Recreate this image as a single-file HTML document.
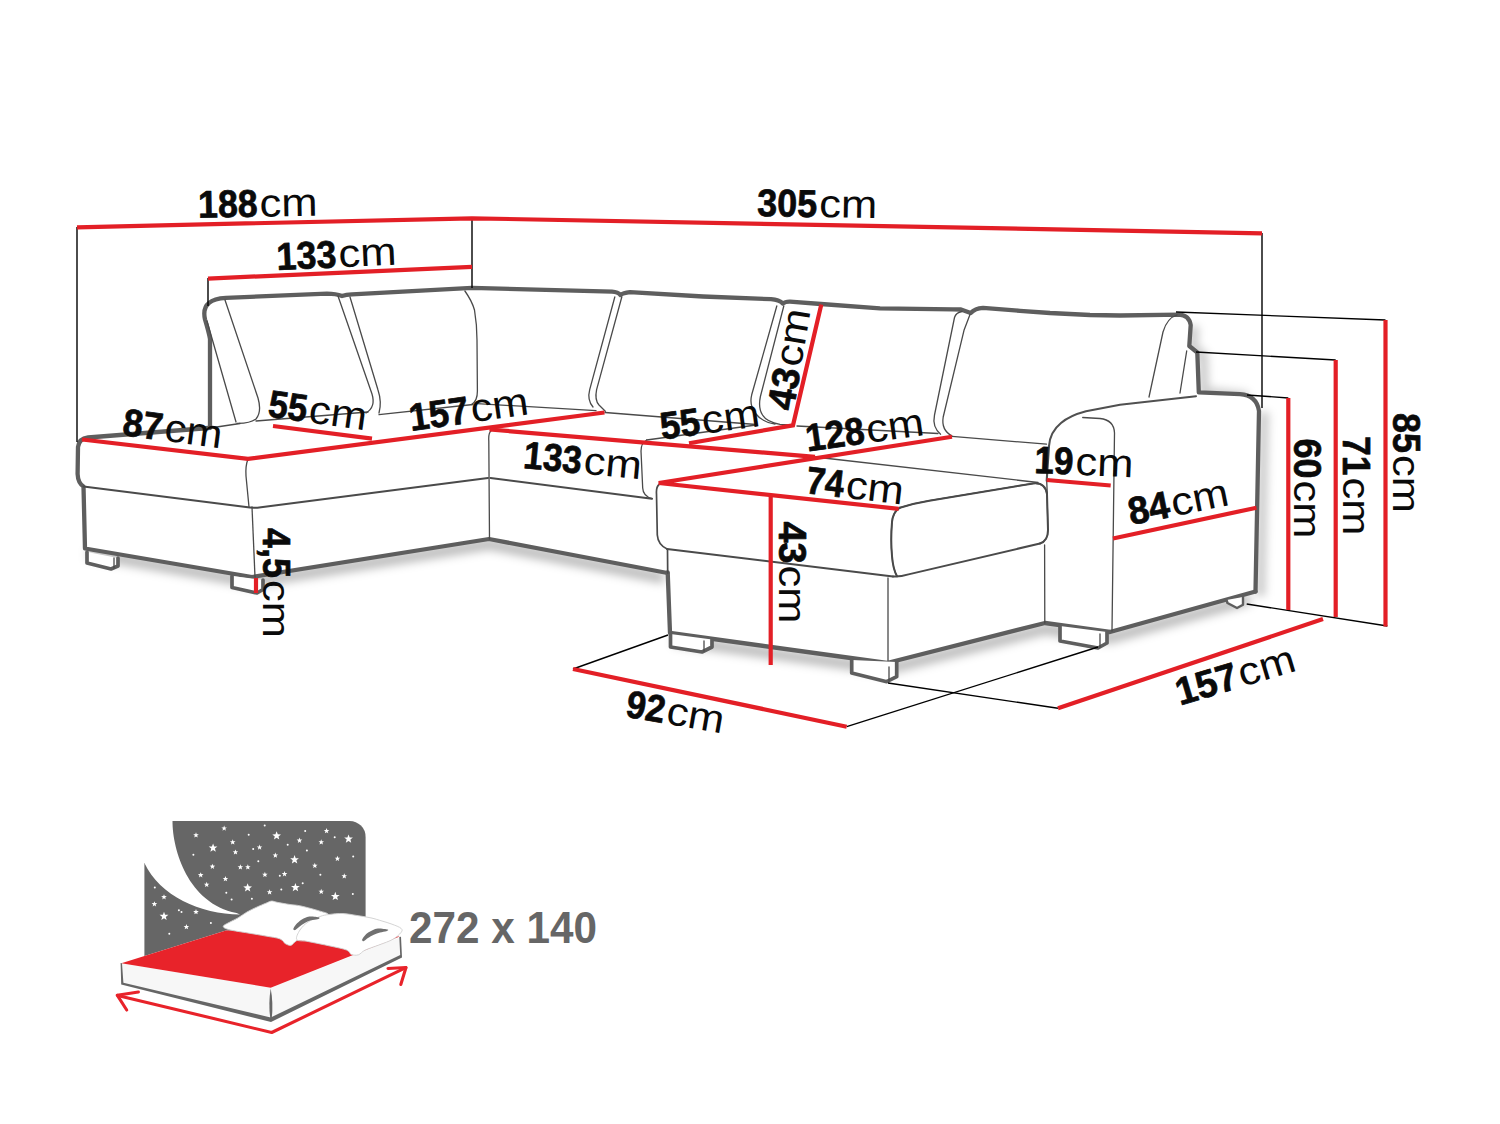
<!DOCTYPE html>
<html>
<head>
<meta charset="utf-8">
<title>Sofa dimensions</title>
<style>
html,body{margin:0;padding:0;background:#fff;}
body{width:1500px;height:1124px;overflow:hidden;font-family:"Liberation Sans",sans-serif;}
svg{display:block;}
.k{fill:none;stroke:#5e5e5e;stroke-width:4.3;stroke-linecap:round;stroke-linejoin:round;}
.t{fill:none;stroke:#4a4a4a;stroke-width:1.3;stroke-linecap:round;stroke-linejoin:round;}
.b{fill:none;stroke:#000;stroke-width:1.4;}
.r{fill:none;stroke:#e31f26;stroke-width:4.2;stroke-linecap:butt;}
.lb{font-family:"Liberation Sans",sans-serif;fill:#0a0a0a;}
.n{font-weight:bold;font-size:38.5px;stroke:#0a0a0a;stroke-width:0.7px;stroke-linejoin:round;}
.c{font-weight:normal;font-size:39.5px;}
</style>
</head>
<body>
<svg width="1500" height="1124" viewBox="0 0 1500 1124">
<defs>
<filter id="sh" x="-20%" y="-50%" width="140%" height="250%"><feGaussianBlur stdDeviation="5"/></filter>
<filter id="sh2" x="-50%" y="-20%" width="250%" height="140%"><feGaussianBlur stdDeviation="4"/></filter>
</defs>
<rect width="1500" height="1124" fill="#ffffff"/>

<!-- SHADOWS -->
<g id="shadows">
<g filter="url(#sh)" fill="none" stroke="#000" stroke-opacity="0.27" stroke-width="11" stroke-linejoin="round">
<path d="M88 553 L252 582 L489 544 L664 578"/>
<path d="M674 640 L887 669 L1045 629 L1110 638 L1250 599"/>
</g>
<g filter="url(#sh2)" fill="none" stroke="#000" stroke-opacity="0.2" stroke-width="10">
<path d="M1264 412 L1260.5 596"/>
<path d="M1194 326 L1193 348 L1203 356 L1204 392 L1248 397"/>
</g>
<path fill="#fff" d="M78 440 L85 548 L252 577 L489 539 L667 573 L670 633 L887 663 L1045 623 L1110 632 L1255.5 591.5 L1259 411 L1254 399 L1245 395 L1200 391 L1198 354 L1189 347 L1190 321 L1181 314 L210 297 L204 318 L210 428 Z"/>
</g>

<!-- SOFA -->
<g id="sofa">
<!-- thick outline -->
<g class="k">
<path d="M210 428 L210 339 Q209 333 205 319.5 Q202.5 308 209 303 Q214 298.3 226 297.8 L327 293.6 Q336 293.6 342 296 Q346 294.7 352 294.4 L472 287.9 L612 291.6 Q618 292 620.5 295 Q623 293 630 292.2 L703 296.5 L771 299.2 Q779 299.8 783 303.6 Q785 301.6 790 301.7 L821 304 L880 308.4 L953 309.3 L961 309.5 L970.7 313 Q975 308.3 983 307.8 L1020 310.8 L1050 313 L1090 315 L1120 315.5 L1179 314.6 Q1189 315 1190.7 325 L1189.3 346 L1197.3 352.5 L1198.8 392.4 L1240 394.2 Q1256.5 395.2 1259 411 L1255.5 591.5"/>
<path d="M208.5 428 L88 437.5 Q79 438.5 78 447 L77.6 474 Q78 483 83.5 486.5 L85 548.5 L252 577 L489 539 L667.5 573"/>
<path d="M667.7 572.5 L670 633 L887 663 L1045 623 L1110 632 L1255.5 591.5"/>

</g>
<!-- medium lines -->
<g class="t" style="stroke-width:2">
<path d="M659 484.5 Q656 487 656.5 494 L657.3 535 Q658 545 667.5 549.3 L667.7 573" style="stroke-width:1.7"/>
<path d="M1046.7 480.7 L1049 446 Q1050 432 1061 423 Q1070 415.5 1086 411.3 L1120 404.7 L1196 396.2" style="stroke-width:2.1;stroke:#505050"/>
<path d="M83.5 486.5 L246 507 Q253 508.4 261 507.2 L488 478"/>
<path d="M490.5 478 L652 498.7"/>
<path d="M667 549 L893 576.5"/>
<path d="M893 576.5 Q900 577 908.5 574.4 L1040 543.5"/>
<path d="M899.9 507.7 Q915 503 929.3 500.7 L1033.3 483.4 Q1045 482 1047 494 L1048 530 Q1048 541 1040 543.5"/>
<path d="M899.9 507.7 Q893 512 892 522 Q890.5 540 892 556 Q893 569 897 576.3"/>
</g>
<!-- thin lines -->
<g class="t">
<!-- left section -->
<path d="M210 428 L240 423.5"/>
<path d="M207 321 L236 422"/>
<path d="M225 300 L258 398 Q262 412 256 419 Q250 423.5 237 423.3"/>
<path d="M256 421 L368 412"/>
<path d="M338 296 L372 394 Q376 407 366 413"/>
<path d="M350 297 L378 390 Q382 402 379 413"/>
<path d="M379 414.7 L473 404.5"/>
<path d="M464.9 291 Q472 301 474.5 310 Q477 325 477 340 L477.4 391 Q477.5 401 471.5 404.5"/>
<path d="M248 459 Q245.3 466 246 476 L249 507"/>
<path d="M252 507 L255 577"/>
<!-- middle section -->
<path d="M491 431 Q488.3 433 488.8 441 L489.5 539"/>
<path d="M477 403.6 L596 410.6"/>
<path d="M614.8 297 L589.7 389.6 Q587 400 593 407"/>
<path d="M621.8 297 L596.6 389.6 Q594.5 400 599 405 L605.3 411.2"/>
<path d="M605 412.5 L756 424.5"/>
<path d="M646.7 440 L756 425"/>
<path d="M646.7 440 Q641 443 641 451 L642.7 488 Q643 496 652 498.7"/>
<path d="M776.8 306 L751.7 394.8 Q749 406 756 414 Q762 422 775 424"/>
<path d="M783.8 306 L760.4 396.5 Q758 408 762.5 415 Q767 422 780 424.3 L793 425.2"/>
<!-- right section -->
<path d="M797 426 L938 433.5"/>
<path d="M962 311.5 Q956 312.5 954.5 317.5 L934.5 415 Q932 427 940.6 434.2"/>
<path d="M970 314.5 L964 330.3 L943.2 417 Q941 430 952 436"/>
<path d="M952 436.3 L1046.5 444.2"/>
<path d="M1177 315 Q1167 318 1163 332 L1149 397"/>
<path d="M1186.7 351 L1180 393"/>
<path d="M1082.7 417.5 L1100 418.5 Q1114 420 1114.5 433 L1112 631"/>
<path d="M1046.7 481 L1047.3 494"/><path d="M1044.6 545 L1044.8 623"/>
<path d="M815 457 L1038 482.5"/>
<path d="M899.9 507.7 Q915 503 929.3 500.7 L1033.3 483.4 Q1045 482 1047 494 L1048 530 Q1048 541 1040 543.5"/>
<path d="M899.9 507.7 Q893 512 892 522 Q890.5 540 892 556 Q893 569 897 576.3"/>
<path d="M888 578 L888 663"/>
</g>
<!-- feet -->
<g class="k" style="stroke-width:3.7;fill:#fff">
<path d="M87 552 L87 563 L111 569 L118 566 L118 558"/>
<path d="M232 576 L232 587.5 L257 593 L263 589.5 L263 580"/>
<path d="M670.5 634 L670.5 647 L702 652 L712 647 L712 639.5"/>
<path d="M851.7 660 L851.7 673 L886.7 681.7 L896.7 676.7 L896.7 662"/>
<path d="M1060 626 L1060 641 L1098 648 L1107 643 L1107 632"/>
<path d="M1226.5 600 L1227.5 603 L1237 608 L1243 604.8 L1243 597" style="stroke-width:2.4"/>
</g>
<g class="t">
<path d="M114 558 L114 568"/><path d="M704 641 L704 651"/><path d="M889 667 L889 681"/><path d="M1100 634 L1100 647"/>
</g>
</g>

<!-- THIN BLACK GUIDE LINES -->
<g id="guides" class="b">
<path d="M77 227 L77 442"/>
<path d="M472 218 L472 288"/>
<path d="M208 278 L208 306"/>
<path d="M1262 233 L1262 408"/>
<path d="M1176 312 L1385.5 320"/>
<path d="M1196 352 L1335.7 360"/>
<path d="M1247 395 L1288.3 398"/>
<path d="M1246.7 604 L1387.3 626"/>
<path d="M668 635 L573 669"/>
<path d="M846.7 726.7 L1098 647"/>
<path d="M888 683 L1058 708.3"/>
</g>

<!-- RED LINES -->
<g id="red" class="r">
<path d="M77 227.3 L472 218.3 L1262 233.3"/>
<path d="M208 278.6 L472 266.8"/>
<path d="M82 439.5 L248 458.8 L604.5 412.5"/>
<path d="M273 426 L372 438.6"/>
<path d="M489.5 429.5 L815 456.8"/>
<path d="M689 443.2 L793 425.3 L821.3 304.5"/>
<path d="M952 436.8 L658.7 483 L898.7 508.8"/>
<path d="M770.7 497 L770.7 665"/>
<path d="M573 669 L846.7 726.7"/>
<path d="M1058 708.3 L1323 619"/>
<path d="M1046.7 480 L1110.7 485.5"/>
<path d="M1113 538.5 L1256.5 507.7"/>
<path d="M1288.3 398 L1288.3 610"/>
<path d="M1335.7 360 L1335.7 617"/>
<path d="M1385.5 320 L1385.5 626.5"/>
<path d="M256 578 L256 593"/>
</g>

<!-- LABELS -->
<g id="labels" class="lb">
<g transform="translate(198.3 217.7) rotate(-1)"><text class="n" x="0" y="0" textLength="59.5" lengthAdjust="spacingAndGlyphs">188</text><text class="c" x="61.5" y="0" textLength="58.0" lengthAdjust="spacingAndGlyphs">cm</text></g>
<g transform="translate(277 270) rotate(-2.6)"><text class="n" x="0" y="0" textLength="60.0" lengthAdjust="spacingAndGlyphs">133</text><text class="c" x="62.0" y="0" textLength="58.0" lengthAdjust="spacingAndGlyphs">cm</text></g>
<g transform="translate(757 216) rotate(1)"><text class="n" x="0" y="0" textLength="60.0" lengthAdjust="spacingAndGlyphs">305</text><text class="c" x="62.0" y="0" textLength="58.0" lengthAdjust="spacingAndGlyphs">cm</text></g>
<g transform="translate(121.5 435) rotate(7.6)"><text class="n" x="0" y="0" textLength="40.0" lengthAdjust="spacingAndGlyphs">87</text><text class="c" x="42.0" y="0" textLength="58.0" lengthAdjust="spacingAndGlyphs">cm</text></g>
<g transform="translate(267 416.5) rotate(8)"><text class="n" x="0" y="0" textLength="39.0" lengthAdjust="spacingAndGlyphs">55</text><text class="c" x="41.0" y="0" textLength="58.0" lengthAdjust="spacingAndGlyphs">cm</text></g>
<g transform="translate(411 431) rotate(-8)"><text class="n" x="0" y="0" textLength="60.0" lengthAdjust="spacingAndGlyphs">157</text><text class="c" x="62.0" y="0" textLength="58.0" lengthAdjust="spacingAndGlyphs">cm</text></g>
<g transform="translate(522.5 468) rotate(5.4)"><text class="n" x="0" y="0" textLength="58.5" lengthAdjust="spacingAndGlyphs">133</text><text class="c" x="60.5" y="0" textLength="58.0" lengthAdjust="spacingAndGlyphs">cm</text></g>
<g transform="translate(662 439.8) rotate(-8)"><text class="n" x="0" y="0" textLength="40.0" lengthAdjust="spacingAndGlyphs">55</text><text class="c" x="42.0" y="0" textLength="58.0" lengthAdjust="spacingAndGlyphs">cm</text></g>
<g transform="translate(793.5 411.5) rotate(-80.4)"><text class="n" x="0" y="0" textLength="42.0" lengthAdjust="spacingAndGlyphs">43</text><text class="c" x="44.0" y="0" textLength="58.0" lengthAdjust="spacingAndGlyphs">cm</text></g>
<g transform="translate(807.5 451.5) rotate(-8)"><text class="n" x="0" y="0" textLength="59.0" lengthAdjust="spacingAndGlyphs">128</text><text class="c" x="61.0" y="0" textLength="58.0" lengthAdjust="spacingAndGlyphs">cm</text></g>
<g transform="translate(805 493) rotate(6.7)"><text class="n" x="0" y="0" textLength="38.0" lengthAdjust="spacingAndGlyphs">74</text><text class="c" x="40.0" y="0" textLength="58.0" lengthAdjust="spacingAndGlyphs">cm</text></g>
<g transform="translate(778.5 521.5) rotate(90)"><text class="n" x="0" y="0" textLength="42.0" lengthAdjust="spacingAndGlyphs">43</text><text class="c" x="44.0" y="0" textLength="58.0" lengthAdjust="spacingAndGlyphs">cm</text></g>
<g transform="translate(263 528) rotate(90)"><text class="n" x="0" y="0" textLength="50.0" lengthAdjust="spacingAndGlyphs">4,5</text><text class="c" x="52.0" y="0" textLength="58.0" lengthAdjust="spacingAndGlyphs">cm</text></g>
<g transform="translate(624.5 716.5) rotate(9.9)"><text class="n" x="0" y="0" textLength="39.0" lengthAdjust="spacingAndGlyphs">92</text><text class="c" x="41.0" y="0" textLength="58.0" lengthAdjust="spacingAndGlyphs">cm</text></g>
<g transform="translate(1034 473) rotate(2.4)"><text class="n" x="0" y="0" textLength="39.0" lengthAdjust="spacingAndGlyphs">19</text><text class="c" x="41.0" y="0" textLength="58.0" lengthAdjust="spacingAndGlyphs">cm</text></g>
<g transform="translate(1131 525) rotate(-11.4)"><text class="n" x="0" y="0" textLength="41.5" lengthAdjust="spacingAndGlyphs">84</text><text class="c" x="43.5" y="0" textLength="58.0" lengthAdjust="spacingAndGlyphs">cm</text></g>
<g transform="translate(1294 438.5) rotate(90)"><text class="n" x="0" y="0" textLength="40.0" lengthAdjust="spacingAndGlyphs">60</text><text class="c" x="42.0" y="0" textLength="58.0" lengthAdjust="spacingAndGlyphs">cm</text></g>
<g transform="translate(1343 436) rotate(90)"><text class="n" x="0" y="0" textLength="39.5" lengthAdjust="spacingAndGlyphs">71</text><text class="c" x="41.5" y="0" textLength="58.0" lengthAdjust="spacingAndGlyphs">cm</text></g>
<g transform="translate(1393 413) rotate(90)"><text class="n" x="0" y="0" textLength="40.0" lengthAdjust="spacingAndGlyphs">85</text><text class="c" x="42.0" y="0" textLength="58.0" lengthAdjust="spacingAndGlyphs">cm</text></g>
<g transform="translate(1180 705.5) rotate(-16.6)"><text class="n" x="0" y="0" textLength="63.0" lengthAdjust="spacingAndGlyphs">157</text><text class="c" x="65.0" y="0" textLength="58.0" lengthAdjust="spacingAndGlyphs">cm</text></g>
<text x="409" y="943" style="font-weight:bold;font-size:44px;fill:#666" textLength="188" lengthAdjust="spacingAndGlyphs">272 x 140</text>
</g>

<!-- BED ICON -->
<g id="bed">
<path fill="#666" d="M144.4 820.9 H349.6 A16 16 0 0 1 365.6 836.9 V966 H144.4 Z"/>
<path fill="#fff" d="M142 818 L172.5 818 L172.5 820.9 C172.5 850 188 903 236.5 913 L240 914.6 C200 914 160 896 144.4 863 L142 863 Z"/>
<g fill="#fff">
<polygon points="213.1,843.4 214.2,846.4 217.4,846.6 214.9,848.6 215.8,851.7 213.1,849.9 210.4,851.7 211.2,848.6 208.7,846.6 211.9,846.4"/>
<polygon points="276.6,831.2 277.8,834.3 281.0,834.4 278.5,836.4 279.3,839.6 276.6,837.8 273.9,839.6 274.8,836.4 272.3,834.4 275.5,834.3"/>
<polygon points="348.5,834.4 349.7,837.5 352.9,837.6 350.4,839.6 351.2,842.8 348.5,841.0 345.8,842.8 346.7,839.6 344.2,837.6 347.4,837.5"/>
<polygon points="294.6,855.1 295.7,858.2 298.9,858.3 296.4,860.3 297.3,863.5 294.6,861.7 291.9,863.5 292.7,860.3 290.2,858.3 293.4,858.2"/>
<polygon points="247.6,883.3 248.8,886.3 252.0,886.5 249.5,888.5 250.3,891.6 247.6,889.8 244.9,891.6 245.8,888.5 243.3,886.5 246.5,886.3"/>
<polygon points="295.4,882.9 296.5,885.9 299.8,886.0 297.3,888.1 298.1,891.2 295.4,889.4 292.7,891.2 293.6,888.1 291.0,886.0 294.3,885.9"/>
<polygon points="335.3,891.8 336.4,894.9 339.7,895.0 337.1,897.0 338.0,900.1 335.3,898.4 332.6,900.1 333.5,897.0 330.9,895.0 334.2,894.9"/>
<polygon points="164.0,911.7 165.1,914.7 168.4,914.8 165.8,916.9 166.7,920.0 164.0,918.2 161.3,920.0 162.2,916.9 159.6,914.8 162.9,914.7"/>
<polygon points="196.0,832.3 196.7,834.2 198.8,834.3 197.2,835.6 197.7,837.5 196.0,836.4 194.3,837.5 194.8,835.6 193.2,834.3 195.3,834.2"/>
<polygon points="224.2,825.5 224.9,827.4 226.9,827.5 225.3,828.7 225.9,830.7 224.2,829.6 222.5,830.7 223.0,828.7 221.4,827.5 223.4,827.4"/>
<polygon points="232.7,839.3 233.4,841.3 235.5,841.3 233.9,842.6 234.4,844.6 232.7,843.5 231.0,844.6 231.5,842.6 229.9,841.3 232.0,841.3"/>
<polygon points="235.5,849.4 236.2,851.3 238.2,851.4 236.6,852.6 237.2,854.6 235.5,853.5 233.8,854.6 234.3,852.6 232.7,851.4 234.8,851.3"/>
<polygon points="259.6,844.5 260.3,846.4 262.3,846.5 260.7,847.7 261.3,849.7 259.6,848.6 257.9,849.7 258.4,847.7 256.8,846.5 258.9,846.4"/>
<polygon points="299.5,837.6 300.2,839.5 302.2,839.6 300.6,840.9 301.2,842.9 299.5,841.8 297.8,842.9 298.3,840.9 296.7,839.6 298.8,839.5"/>
<polygon points="326.6,828.0 327.3,829.9 329.3,830.0 327.7,831.3 328.3,833.3 326.6,832.2 324.9,833.3 325.4,831.3 323.8,830.0 325.8,829.9"/>
<polygon points="321.2,839.3 321.9,841.3 324.0,841.3 322.4,842.6 322.9,844.6 321.2,843.5 319.5,844.6 320.1,842.6 318.5,841.3 320.5,841.3"/>
<polygon points="337.4,855.8 338.2,857.7 340.2,857.8 338.6,859.0 339.1,861.0 337.4,859.9 335.7,861.0 336.3,859.0 334.7,857.8 336.7,857.7"/>
<polygon points="314.8,862.8 315.5,864.7 317.6,864.8 316.0,866.1 316.5,868.1 314.8,866.9 313.1,868.1 313.7,866.1 312.1,864.8 314.1,864.7"/>
<polygon points="275.4,852.6 276.1,854.5 278.1,854.6 276.5,855.8 277.1,857.8 275.4,856.7 273.7,857.8 274.2,855.8 272.6,854.6 274.6,854.5"/>
<polygon points="212.4,863.7 213.1,865.6 215.2,865.7 213.6,866.9 214.1,868.9 212.4,867.8 210.7,868.9 211.3,866.9 209.7,865.7 211.7,865.6"/>
<polygon points="240.4,864.3 241.1,866.2 243.1,866.3 241.5,867.6 242.1,869.5 240.4,868.4 238.7,869.5 239.2,867.6 237.6,866.3 239.7,866.2"/>
<polygon points="247.8,864.3 248.6,866.2 250.6,866.3 249.0,867.6 249.5,869.5 247.8,868.4 246.1,869.5 246.7,867.6 245.1,866.3 247.1,866.2"/>
<polygon points="200.7,872.2 201.4,874.1 203.5,874.2 201.9,875.5 202.4,877.4 200.7,876.3 199.0,877.4 199.5,875.5 197.9,874.2 200.0,874.1"/>
<polygon points="225.4,876.0 226.2,877.9 228.2,878.0 226.6,879.3 227.1,881.3 225.4,880.2 223.7,881.3 224.3,879.3 222.7,878.0 224.7,877.9"/>
<polygon points="206.7,881.8 207.4,883.7 209.4,883.8 207.8,885.1 208.4,887.0 206.7,885.9 205.0,887.0 205.5,885.1 203.9,883.8 206.0,883.7"/>
<polygon points="264.9,871.8 265.6,873.7 267.7,873.8 266.1,875.0 266.6,877.0 264.9,875.9 263.2,877.0 263.7,875.0 262.1,873.8 264.2,873.7"/>
<polygon points="284.5,871.1 285.2,873.0 287.3,873.1 285.7,874.4 286.2,876.4 284.5,875.2 282.8,876.4 283.4,874.4 281.8,873.1 283.8,873.0"/>
<polygon points="344.3,873.3 345.0,875.2 347.0,875.3 345.4,876.5 346.0,878.5 344.3,877.4 342.6,878.5 343.1,876.5 341.5,875.3 343.6,875.2"/>
<polygon points="321.2,888.8 321.9,890.7 324.0,890.8 322.4,892.1 322.9,894.1 321.2,893.0 319.5,894.1 320.1,892.1 318.5,890.8 320.5,890.7"/>
<polygon points="269.6,889.3 270.3,891.2 272.4,891.3 270.8,892.5 271.3,894.5 269.6,893.4 267.9,894.5 268.4,892.5 266.8,891.3 268.9,891.2"/>
<polygon points="164.0,894.2 164.7,896.1 166.8,896.2 165.2,897.4 165.7,899.4 164.0,898.3 162.3,899.4 162.8,897.4 161.2,896.2 163.3,896.1"/>
<polygon points="154.4,901.2 155.1,903.1 157.2,903.2 155.6,904.5 156.1,906.5 154.4,905.3 152.7,906.5 153.2,904.5 151.6,903.2 153.7,903.1"/>
<polygon points="196.0,909.1 196.7,911.0 198.8,911.1 197.2,912.4 197.7,914.3 196.0,913.2 194.3,914.3 194.8,912.4 193.2,911.1 195.3,911.0"/>
<polygon points="186.4,924.0 187.1,925.9 189.2,926.0 187.6,927.3 188.1,929.3 186.4,928.2 184.7,929.3 185.2,927.3 183.6,926.0 185.7,925.9"/>
<circle cx="264.7" cy="825.6" r="1"/>
<circle cx="248.7" cy="834.8" r="1"/>
<circle cx="305.2" cy="830.9" r="1"/>
<circle cx="334.7" cy="837.3" r="1"/>
<circle cx="287.7" cy="844.8" r="1"/>
<circle cx="253.2" cy="849.1" r="1"/>
<circle cx="306.9" cy="850.6" r="1"/>
<circle cx="193.4" cy="854.8" r="1"/>
<circle cx="258.3" cy="861.2" r="1"/>
<circle cx="353.2" cy="856.5" r="1"/>
<circle cx="320.4" cy="874.7" r="1"/>
<circle cx="279.8" cy="875.7" r="1"/>
<circle cx="302.7" cy="883.2" r="1"/>
<circle cx="226.3" cy="892.8" r="1"/>
<circle cx="281.3" cy="889.6" r="1"/>
<circle cx="251.9" cy="898.8" r="1"/>
<circle cx="231.6" cy="899.6" r="1"/>
<circle cx="352.8" cy="893.9" r="1"/>
<circle cx="154.8" cy="887.5" r="1"/>
<circle cx="178.9" cy="910.3" r="1"/>
<circle cx="181.5" cy="912.0" r="1"/>
<circle cx="210.9" cy="923.1" r="1"/>
<circle cx="169.3" cy="933.8" r="1"/>
</g>
<path fill="#fff" d="M100 963.2 L121.3 963.2 L225.9 930.6 L399.7 936.5 L403 936.5 L403 1045 L100 1045 Z"/>
<path fill="#f7f7f7" d="M121.3 963.2 L122.4 983.5 L270.7 1019.7 L400.9 956.8 L399.7 937.6 L270.7 987.7 Z"/>
<path fill="#e8232a" d="M121.3 963.2 L225.9 930.6 L399.7 936.5 L270.7 987.7 Z"/>
<path fill="#666" d="M120.6 963 L122 963.2 L123.4 982.8 L270.7 1017.5 L400.2 955 L399.3 937 L401 936.8 L402 957.6 L271 1022 L121.2 984.6 Z"/>
<path fill="#666" d="M270.7 988.5 Q268.3 1003 270.2 1018 L271.8 1018 Q273.4 1003 270.7 988.5 Z"/>
<g fill="#fff" stroke="#cfcfcf" stroke-width="0.9" stroke-linejoin="round">
<path d="M223.3 926.3 C223.4 925.0 227.6 923.4 230.0 922.0 C232.4 920.6 235.2 919.6 238.0 917.9 C240.8 916.2 244.0 913.8 247.0 912.0 C250.0 910.2 253.0 908.9 256.2 907.4 C259.4 905.9 263.4 904.2 266.0 903.2 C268.6 902.2 269.7 901.2 271.6 901.1 C273.5 901.0 274.1 901.7 277.2 902.3 C280.3 902.9 286.0 903.9 290.0 904.5 C294.0 905.1 296.1 904.9 301.0 906.0 C305.9 907.1 314.5 909.4 319.2 910.9 C323.9 912.4 328.0 912.8 329.0 915.1 C330.0 917.5 328.2 921.7 325.0 925.0 C321.8 928.3 314.7 932.4 310.0 935.0 C305.3 937.6 299.9 938.8 296.8 940.5 C293.7 942.2 293.1 944.7 291.2 945.2 C289.3 945.8 287.5 944.8 285.6 943.8 C283.7 942.8 283.3 940.2 280.0 938.9 C276.7 937.6 271.3 937.1 266.0 936.1 C260.7 935.1 254.1 934.0 248.0 933.0 C241.9 932.0 233.7 930.9 229.6 929.8 C225.5 928.7 223.2 927.6 223.3 926.3 Z"/>
<path d="M296.8 939.6 C295.5 937.7 298.1 932.9 300.0 930.0 C301.9 927.1 304.7 924.2 308.0 922.0 C311.3 919.8 316.5 917.8 320.0 916.5 C323.5 915.2 325.2 915.0 329.0 914.5 C332.8 914.0 338.3 913.3 343.0 913.5 C347.7 913.7 352.3 914.8 357.0 915.5 C361.7 916.2 366.8 917.0 371.0 917.9 C375.2 918.8 378.5 920.0 382.0 921.0 C385.5 922.0 388.8 923.0 392.0 924.2 C395.2 925.4 399.6 927.0 401.1 928.4 C402.6 929.8 402.4 930.7 401.0 932.5 C399.6 934.3 396.7 937.2 393.0 939.3 C389.3 941.4 383.7 943.2 379.0 945.0 C374.3 946.8 368.4 948.6 365.0 950.2 C361.6 951.8 360.7 954.1 358.4 954.8 C356.1 955.5 353.4 955.3 351.4 954.5 C349.4 953.7 350.1 951.4 346.5 950.0 C342.9 948.6 336.4 947.4 330.0 946.0 C323.6 944.6 313.5 942.6 308.0 941.5 C302.5 940.4 298.1 941.5 296.8 939.6 Z"/>
</g>
<path fill="#707070" d="M293.3 929.1 C293.4 928.2 294.7 926.0 296.0 924.5 C297.3 923.0 299.3 921.2 301.0 920.0 C302.7 918.8 304.4 918.1 306.0 917.5 C307.6 916.9 308.6 916.5 310.8 916.5 C313.0 916.5 318.1 917.0 319.2 917.5 C320.3 918.0 318.9 918.8 317.5 919.3 C316.1 919.8 313.1 919.7 311.0 920.3 C308.9 920.9 307.2 921.7 305.2 922.8 C303.2 923.9 300.6 925.8 299.0 927.0 C297.4 928.2 296.2 929.6 295.3 930.0 C294.4 930.4 293.2 930.0 293.3 929.1 Z"/>
<path fill="#707070" d="M361.9 940.3 C362.0 939.5 363.4 937.3 364.5 936.0 C365.6 934.7 366.8 933.6 368.2 932.6 C369.6 931.6 371.4 930.7 373.0 930.0 C374.6 929.3 375.5 928.5 378.0 928.4 C380.5 928.3 386.4 929.0 387.8 929.5 C389.2 930.0 387.7 930.7 386.4 931.2 C385.1 931.7 382.1 931.9 380.0 932.5 C377.9 933.1 375.8 933.8 373.8 934.7 C371.8 935.6 369.6 937.0 368.0 938.0 C366.4 939.0 365.0 940.6 364.0 941.0 C363.0 941.4 361.8 941.1 361.9 940.3 Z"/>
<g fill="none" stroke="#e8232a" stroke-width="3.1" stroke-linecap="round" stroke-linejoin="round">
<path d="M117.6 995.4 L271.7 1032.5 L405.8 967.7"/>
<path d="M138.4 992 L117.2 995.2 L126.7 1010"/>
<path d="M388 968.5 L406 967.5 L400.8 984.5"/>
</g>
</g>
</svg>
</body>
</html>
